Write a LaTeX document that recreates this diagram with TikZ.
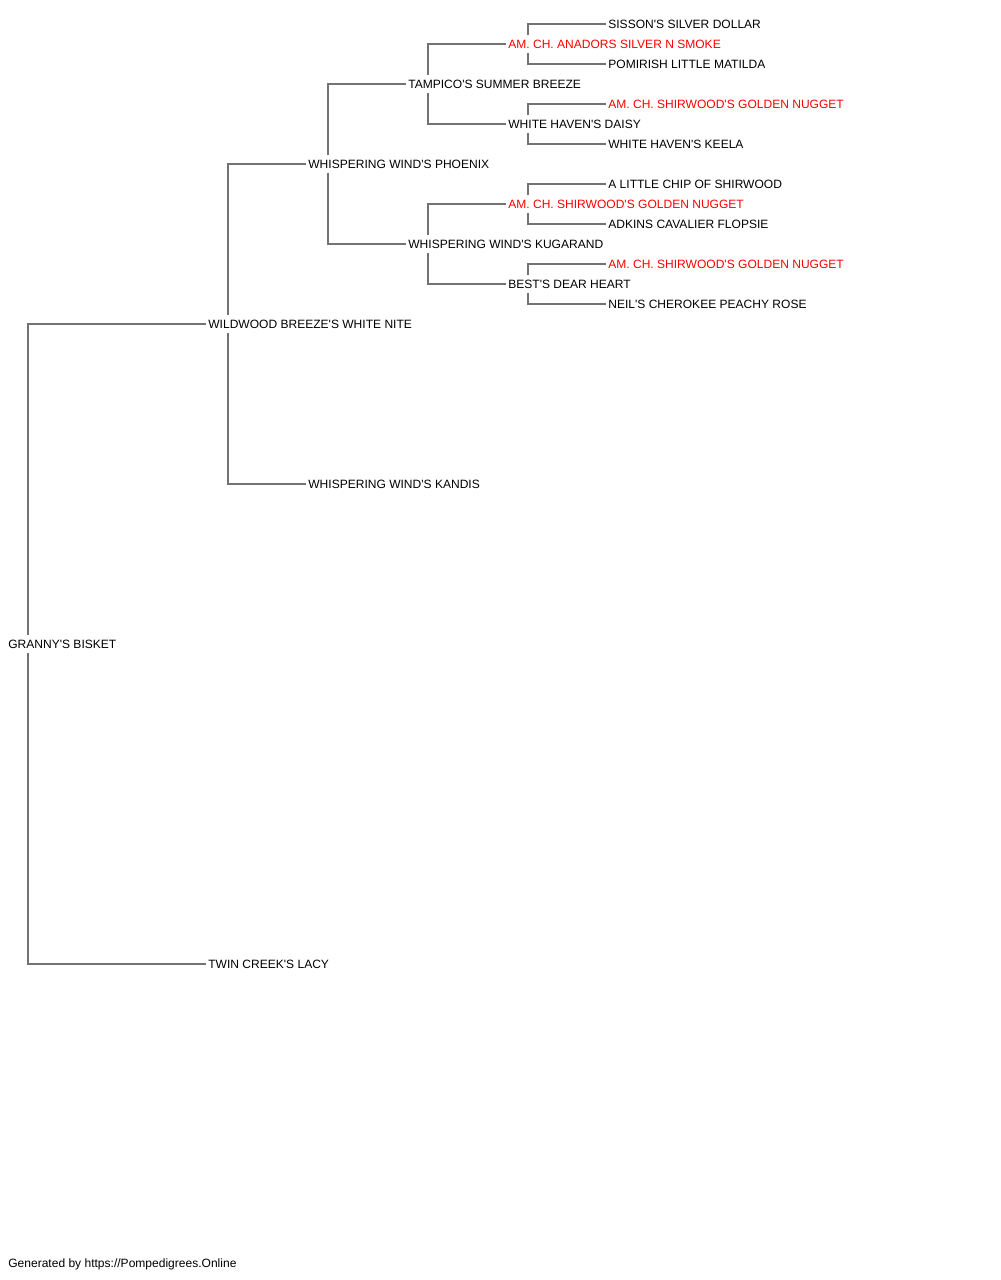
\documentclass[tikz,border=0pt]{standalone}
\usepackage{fontspec}
\setmainfont{Liberation Sans}
\usetikzlibrary{positioning}
\newcommand{\ap}{\textquotesingle}
\tikzset{
  dog/.style={anchor=west, inner xsep=0.04cm, inner ysep=0pt, minimum height=0.36cm, font=\fontsize{6.85}{8}\selectfont, text=black},
  champ/.style={dog, text=red},
  link/.style={draw=black!55, line width=1.1pt},
  credit/.style={anchor=west, inner sep=0pt, font=\fontsize{6.85}{8}\selectfont}
}

\begin{document}
\begin{tikzpicture}[x=0.02cm, y=-0.02cm]
  \useasboundingbox (0,0) rectangle (1000,1280);

  % generations, left to right
  \node[dog] (granny) at (6,644) {GRANNY\ap S BISKET};

  \node[dog] (wildwood) at (206,324) {WILDWOOD BREEZE\ap S WHITE NITE};
  \node[dog] (twincreek) at (206,964) {TWIN CREEK\ap S LACY};

  \node[dog] (phoenix) at (306,164) {WHISPERING WIND\ap S PHOENIX};
  \node[dog] (kandis) at (306,484) {WHISPERING WIND\ap S KANDIS};

  \node[dog] (tampico) at (406,84) {TAMPICO\ap S SUMMER BREEZE};
  \node[dog] (kugarand) at (406,244) {WHISPERING WIND\ap S KUGARAND};

  \node[champ] (anadors) at (506,44) {AM. CH. ANADORS SILVER N SMOKE};
  \node[dog] (daisy) at (506,124) {WHITE HAVEN\ap S DAISY};
  \node[champ] (nuggeta) at (506,204) {AM. CH. SHIRWOOD\ap S GOLDEN NUGGET};
  \node[dog] (bests) at (506,284) {BEST\ap S DEAR HEART};

  \node[dog] (sisson) at (606,24) {SISSON\ap S SILVER DOLLAR};
  \node[dog] (pomirish) at (606,64) {POMIRISH LITTLE MATILDA};
  \node[champ] (nuggetb) at (606,104) {AM. CH. SHIRWOOD\ap S GOLDEN NUGGET};
  \node[dog] (keela) at (606,144) {WHITE HAVEN\ap S KEELA};
  \node[dog] (chip) at (606,184) {A LITTLE CHIP OF SHIRWOOD};
  \node[dog] (adkins) at (606,224) {ADKINS CAVALIER FLOPSIE};
  \node[champ] (nuggetc) at (606,264) {AM. CH. SHIRWOOD\ap S GOLDEN NUGGET};
  \node[dog] (neils) at (606,304) {NEIL\ap S CHEROKEE PEACHY ROSE};

  % sire up, dam down
  \foreach \p/\s/\d in {granny/wildwood/twincreek, wildwood/phoenix/kandis,
      phoenix/tampico/kugarand, tampico/anadors/daisy, kugarand/nuggeta/bests,
      anadors/sisson/pomirish, daisy/nuggetb/keela, nuggeta/chip/adkins,
      bests/nuggetc/neils} {
    \draw[link] ([xshift=0.44cm]\p.north west) |- (\s.west);
    \draw[link] ([xshift=0.44cm]\p.south west) |- (\d.west);
  }

  \node[credit] (footer) at (8,1264) {Generated by https://Pompedigrees.Online};
\end{tikzpicture}
\end{document}
